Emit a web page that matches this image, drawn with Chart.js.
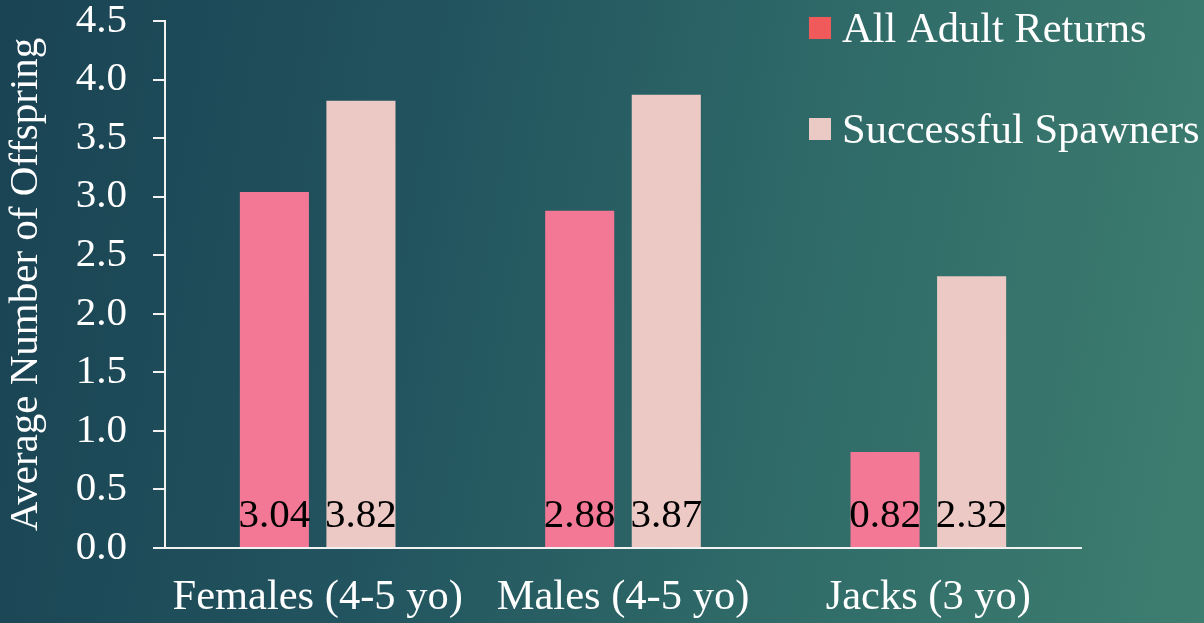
<!DOCTYPE html>
<html>
<head>
<meta charset="utf-8">
<script src="https://cdn.jsdelivr.net/npm/chart.js@4/dist/chart.umd.min.js"></script>
<style>
  html, body { margin: 0; padding: 0; }
  body {
    width: 1204px; height: 623px; overflow: hidden;
    background: linear-gradient(100deg, #1a4353 0%, #22545f 35%, #2f6a68 65%, #3e7e70 100%);
  }
  canvas { display: block; }
</style>
</head>
<body>
<canvas id="chart" width="1204" height="623"></canvas>
<script>
// Offspring per parent by return type
const categories = ['Females (4-5 yo)', 'Males (4-5 yo)', 'Jacks (3 yo)'];
const allAdultReturns = [3.04, 2.88, 0.82];
const successfulSpawners = [3.82, 3.87, 2.32];
const seriesNames = ['All Adult Returns', 'Successful Spawners'];
const barColors = ['#f37895', '#ecc9c4'];
const legendColors = ['#f05a5a', '#ebcac5'];
const yTicks = [0, 0.5, 1, 1.5, 2, 2.5, 3, 3.5, 4, 4.5];

const FONT = '"Liberation Serif", "Times New Roman", serif';
Chart.defaults.font.family = FONT;

// Values written in black near the foot of each bar
const barValueLabels = {
  id: 'barValueLabels',
  afterDatasetsDraw(chart) {
    const ctx = chart.ctx;
    const y = chart.scales.y.getPixelForValue(0) - 21;
    ctx.save();
    ctx.font = '41px ' + FONT;
    ctx.fillStyle = '#000000';
    ctx.textAlign = 'center';
    ctx.textBaseline = 'alphabetic';
    chart.data.datasets.forEach((ds, di) => {
      chart.getDatasetMeta(di).data.forEach((bar, i) => {
        ctx.fillText(ds.data[i].toFixed(2), bar.x, y);
      });
    });
    ctx.restore();
  }
};

// Stacked legend in the upper right corner
const cornerLegend = {
  id: 'cornerLegend',
  afterDraw(chart) {
    const ctx = chart.ctx;
    const x0 = chart.width - 395;
    ctx.save();
    ctx.font = '42.5px ' + FONT;
    ctx.textAlign = 'left';
    ctx.textBaseline = 'alphabetic';
    seriesNames.forEach((name, i) => {
      const top = 17 + i * 101;
      ctx.fillStyle = legendColors[i];
      ctx.fillRect(x0, top, 22, 22);
      ctx.fillStyle = '#ffffff';
      ctx.fillText(name, x0 + 33, top + 25);
    });
    ctx.restore();
  }
};

new Chart(document.getElementById('chart'), {
  type: 'bar',
  data: {
    labels: categories,
    datasets: [
      { label: seriesNames[0], data: allAdultReturns, backgroundColor: barColors[0],
        categoryPercentage: 0.567, barPercentage: 0.798 },
      { label: seriesNames[1], data: successfulSpawners, backgroundColor: barColors[1],
        categoryPercentage: 0.567, barPercentage: 0.798 }
    ]
  },
  options: {
    responsive: false,
    animation: false,
    layout: { padding: { top: 21, right: 123, bottom: 0, left: 0 } },
    plugins: {
      legend: { display: false },
      tooltip: { enabled: false }
    },
    scales: {
      x: {
        grid: { display: false, drawTicks: false, tickLength: 0 },
        border: { display: true, color: '#f2f2f2', width: 2 },
        ticks: { color: '#ffffff', font: { family: FONT, size: 42.5 }, padding: 24, maxRotation: 0, autoSkip: false },
        afterFit(s) { s.height = 75; s.paddingLeft = 0; s.paddingRight = 0; }
      },
      y: {
        min: 0,
        max: 4.5,
        afterBuildTicks(s) { s.ticks = yTicks.map(v => ({ value: v })); },
        grid: { drawOnChartArea: false, drawTicks: true, tickLength: 12, color: '#f2f2f2', lineWidth: 2 },
        border: { display: true, color: '#f2f2f2', width: 2 },
        ticks: { color: '#ffffff', font: { family: FONT, size: 41 }, padding: 26,
                 callback: v => Number(v).toFixed(1) },
        title: { display: true, text: 'Average Number of Offspring', color: '#ffffff',
                 font: { family: FONT, size: 41 }, padding: { top: 2, bottom: 0 } },
        afterFit(s) { s.width = 165; s.paddingTop = 0; s.paddingBottom = 0; }
      }
    }
  },
  plugins: [barValueLabels, cornerLegend]
});
</script>
</body>
</html>
